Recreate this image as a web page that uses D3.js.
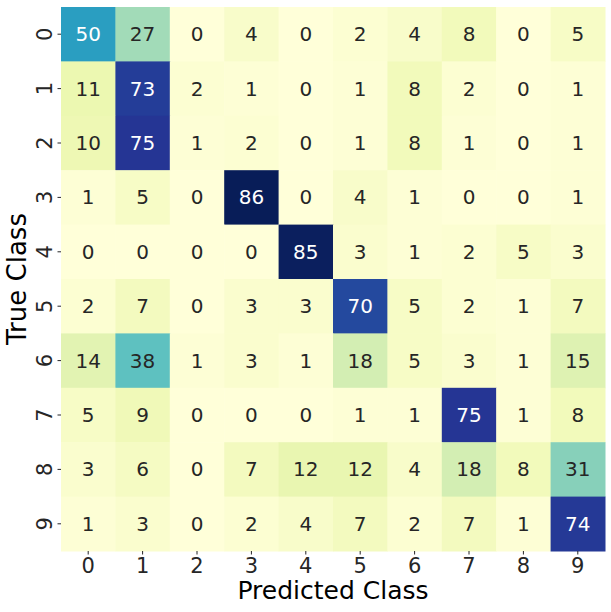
<!DOCTYPE html>
<html>
<head>
<meta charset="utf-8">
<script src="https://cdn.jsdelivr.net/npm/d3@7"></script>
<style>
  body { margin: 0; background: #fff; }
  text { font-family: "DejaVu Sans", sans-serif; }
</style>
</head>
<body>
<div id="chart"></div>
<script>
// Confusion matrix data
const classes = ['0', '1', '2', '3', '4', '5', '6', '7', '8', '9'];
const row0 = [50, 27, 0, 4, 0, 2, 4, 8, 0, 5];
const row1 = [11, 73, 2, 1, 0, 1, 8, 2, 0, 1];
const row2 = [10, 75, 1, 2, 0, 1, 8, 1, 0, 1];
const row3 = [1, 5, 0, 86, 0, 4, 1, 0, 0, 1];
const row4 = [0, 0, 0, 0, 85, 3, 1, 2, 5, 3];
const row5 = [2, 7, 0, 3, 3, 70, 5, 2, 1, 7];
const row6 = [14, 38, 1, 3, 1, 18, 5, 3, 1, 15];
const row7 = [5, 9, 0, 0, 0, 1, 1, 75, 1, 8];
const row8 = [3, 6, 0, 7, 12, 12, 4, 18, 8, 31];
const row9 = [1, 3, 0, 2, 4, 7, 2, 7, 1, 74];
const matrix = [row0, row1, row2, row3, row4, row5, row6, row7, row8, row9];

const width = 611, height = 612;
const margin = { top: 7, right: 6, bottom: 61, left: 61 };

const svg = d3.select('#chart').append('svg')
  .attr('width', width)
  .attr('height', height);

const innerW = width - margin.left - margin.right;
const innerH = height - margin.top - margin.bottom;

const g = svg.append('g')
  .attr('transform', `translate(${margin.left},${margin.top})`);

const x = d3.scaleBand().domain(classes).range([0, innerW]);
const y = d3.scaleBand().domain(classes).range([0, innerH]);

// matplotlib YlGnBu
const ylgnbu = ['#ffffd9', '#edf8b1', '#c7e9b4', '#7fcdbb', '#41b6c4', '#1d91c0', '#225ea8', '#253494', '#081d58'];
const all = matrix.flat();
const vmin = d3.min(all), vmax = d3.max(all);
const color = d3.scaleLinear()
  .domain(ylgnbu.map((c, i) => vmin + (vmax - vmin) * i / (ylgnbu.length - 1)))
  .range(ylgnbu)
  .interpolate(d3.interpolateRgb);

function luminance(c) {
  const rgb = d3.rgb(c);
  const f = v => {
    v = v / 255;
    return v <= 0.03928 ? v / 12.92 : Math.pow((v + 0.055) / 1.055, 2.4);
  };
  return 0.2126 * f(rgb.r) + 0.7152 * f(rgb.g) + 0.0722 * f(rgb.b);
}

const cells = [];
matrix.forEach((row, i) => row.forEach((v, j) => cells.push({ r: classes[i], c: classes[j], v })));

g.selectAll('rect.cell')
  .data(cells)
  .enter()
  .append('rect')
  .attr('class', 'cell')
  .attr('x', d => x(d.c))
  .attr('y', d => y(d.r))
  .attr('width', x.bandwidth() + 0.5)
  .attr('height', y.bandwidth() + 0.5)
  .attr('fill', d => color(d.v));

g.selectAll('text.val')
  .data(cells)
  .enter()
  .append('text')
  .attr('class', 'val')
  .attr('x', d => x(d.c) + x.bandwidth() / 2)
  .attr('y', d => y(d.r) + y.bandwidth() / 2 + 7)
  .attr('text-anchor', 'middle')
  .attr('font-size', '20px')
  .attr('fill', d => luminance(color(d.v)) > 0.408 ? '#262626' : '#ffffff')
  .text(d => d.v);

// Axes
const xAxis = g.append('g')
  .attr('transform', `translate(0,${innerH})`)
  .call(d3.axisBottom(x).tickSize(3.5).tickPadding(4));
xAxis.select('.domain').remove();
xAxis.selectAll('line').attr('stroke', '#262626').attr('stroke-width', 1);
xAxis.selectAll('text').attr('font-size', '21px').attr('fill', '#262626')
  .attr('font-family', '"DejaVu Sans", sans-serif');

const yAxis = g.append('g')
  .call(d3.axisLeft(y).tickSize(3.5).tickPadding(5));
yAxis.select('.domain').remove();
yAxis.selectAll('line').attr('stroke', '#262626').attr('stroke-width', 1);
yAxis.selectAll('text')
  .attr('font-size', '21px').attr('fill', '#262626')
  .attr('font-family', '"DejaVu Sans", sans-serif')
  .attr('x', null).attr('dy', null)
  .attr('text-anchor', 'middle')
  .attr('transform', 'translate(-9,0) rotate(-90)');

// Axis labels
svg.append('text')
  .attr('x', margin.left + innerW / 2)
  .attr('y', 599)
  .attr('text-anchor', 'middle')
  .attr('font-size', '25px')
  .attr('fill', '#000')
  .text('Predicted Class');

svg.append('text')
  .attr('transform', `translate(26,${margin.top + innerH / 2}) rotate(-90)`)
  .attr('text-anchor', 'middle')
  .attr('font-size', '26px')
  .attr('fill', '#000')
  .text('True Class');
</script>
</body>
</html>
